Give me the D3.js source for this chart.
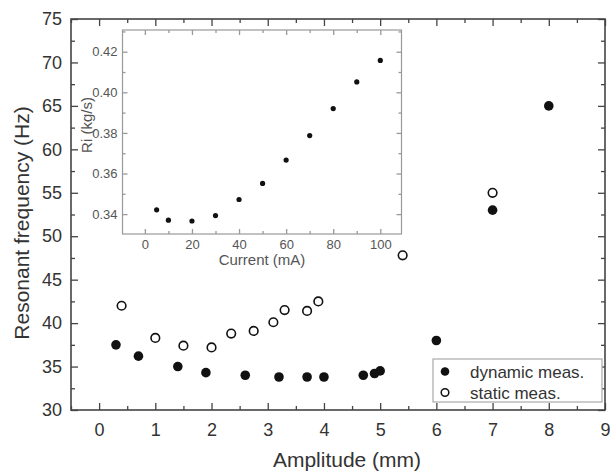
<!DOCTYPE html>
<html><head><meta charset="utf-8">
<script src="https://cdn.jsdelivr.net/npm/d3@7"></script>
<style>body{margin:0;background:#fff;}svg{display:block;font-family:Arial,"Liberation Sans",sans-serif;}</style>
</head><body>
<script>
// Main chart data
const dynamicAmp  = [0.3, 0.7, 1.4, 1.9, 2.6, 3.2, 3.7, 4.0, 4.7, 4.9, 5.0, 6.0, 7.0, 8.0];
const dynamicFreq = [37.5, 36.2, 35.0, 34.3, 34.0, 33.8, 33.8, 33.8, 34.0, 34.2, 34.5, 38.0, 53.0, 65.0];
const staticAmp   = [0.4, 1.0, 1.5, 2.0, 2.35, 2.75, 3.1, 3.3, 3.7, 3.9, 5.4, 7.0];
const staticFreq  = [42.0, 38.3, 37.4, 37.2, 38.8, 39.1, 40.1, 41.5, 41.4, 42.5, 47.8, 55.0];
const xTicks = [0, 1, 2, 3, 4, 5, 6, 7, 8, 9];
const yTicks = [30, 35, 40, 45, 50, 55, 60, 65, 70, 75];
const legendLabels = ["dynamic meas.", "static meas."];
// Inset data
const insetCurrent = [5, 10, 20, 30, 40, 50, 60, 70, 80, 90, 100];
const insetRi      = [0.3421, 0.3370, 0.3366, 0.3393, 0.3472, 0.3551, 0.3666, 0.3787, 0.3920, 0.4051, 0.4157];
const insetXTicks = [0, 20, 40, 60, 80, 100];
const insetYTicks = [0.34, 0.36, 0.38, 0.40, 0.42];

const W = 610, H = 474;
const svg = d3.select("body").append("svg").attr("width", W).attr("height", H);

const L = 71, R = 605, T = 19, B = 410;
const x = d3.scaleLinear().domain([-0.5, 9]).range([L, R]);
const y = d3.scaleLinear().domain([30, 75]).range([B, T]);
const axisColor = "#444", textColor = "#333";

function styleAxis(g, color, textCol, fs) {
  g.select(".domain").remove();
  g.selectAll("line").attr("stroke", color).attr("stroke-width", 1.3);
  g.selectAll("text").attr("fill", textCol).style("font-size", fs + "px");
}

// minor ticks
const xMinor = d3.range(-0.5, 9.01, 0.5).filter(v => Math.abs(v - Math.round(v)) > 0.1);
const yMinor = d3.range(32.5, 75, 5);

function mainAxes() {
  // bottom
  svg.append("g").attr("transform", `translate(0,${B})`)
    .call(d3.axisBottom(x).tickValues(xTicks).tickSize(-7).tickPadding(13).tickFormat(d3.format("d")))
    .call(g => styleAxis(g, axisColor, textColor, 18));
  svg.append("g").attr("transform", `translate(0,${B})`)
    .call(d3.axisBottom(x).tickValues(xMinor).tickSize(-4).tickFormat(""))
    .call(g => styleAxis(g, axisColor, textColor, 18));
  // top
  svg.append("g").attr("transform", `translate(0,${T})`)
    .call(d3.axisTop(x).tickValues(xTicks).tickSize(-7).tickFormat(""))
    .call(g => styleAxis(g, axisColor, textColor, 18));
  svg.append("g").attr("transform", `translate(0,${T})`)
    .call(d3.axisTop(x).tickValues(xMinor).tickSize(-4).tickFormat(""))
    .call(g => styleAxis(g, axisColor, textColor, 18));
  // left
  svg.append("g").attr("transform", `translate(${L},0)`)
    .call(d3.axisLeft(y).tickValues(yTicks).tickSize(-7).tickPadding(9).tickFormat(d3.format("d")))
    .call(g => styleAxis(g, axisColor, textColor, 18));
  svg.append("g").attr("transform", `translate(${L},0)`)
    .call(d3.axisLeft(y).tickValues(yMinor).tickSize(-4).tickFormat(""))
    .call(g => styleAxis(g, axisColor, textColor, 18));
  // right
  svg.append("g").attr("transform", `translate(${R},0)`)
    .call(d3.axisRight(y).tickValues(yTicks).tickSize(-7).tickFormat(""))
    .call(g => styleAxis(g, axisColor, textColor, 18));
  svg.append("g").attr("transform", `translate(${R},0)`)
    .call(d3.axisRight(y).tickValues(yMinor).tickSize(-4).tickFormat(""))
    .call(g => styleAxis(g, axisColor, textColor, 18));
  // frame
  svg.append("rect").attr("x", L).attr("y", T).attr("width", R - L).attr("height", B - T)
    .attr("fill", "none").attr("stroke", axisColor).attr("stroke-width", 1.6);
}

// inset
const iL = 122.5, iR = 401.5, iT = 30, iB = 234;
const ix = d3.scaleLinear().domain([-9.5, 109]).range([iL, iR]);
const iy = d3.scaleLinear().domain([0.3302, 0.4307]).range([iB, iT]);
const insetColor = "#999", insetText = "#555";

svg.append("rect").attr("x", iL).attr("y", iT).attr("width", iR - iL).attr("height", iB - iT)
  .attr("fill", "#fff");

const ixMinor = d3.range(-10, 110, 10).filter(v => v % 20 !== 0 && v > -9.5);
const iyMinor = [0.33, 0.35, 0.37, 0.39, 0.41, 0.43].filter(v => v >= 0.3302 && v <= 0.4307);

svg.append("g").attr("transform", `translate(0,${iB})`)
  .call(d3.axisBottom(ix).tickValues(insetXTicks).tickSize(-5).tickPadding(6).tickFormat(d3.format("d")))
  .call(g => styleAxis(g, insetColor, insetText, 13));
svg.append("g").attr("transform", `translate(0,${iB})`)
  .call(d3.axisBottom(ix).tickValues(ixMinor).tickSize(-3).tickFormat(""))
  .call(g => styleAxis(g, insetColor, insetText, 13));
svg.append("g").attr("transform", `translate(0,${iT})`)
  .call(d3.axisTop(ix).tickValues(insetXTicks).tickSize(-5).tickFormat(""))
  .call(g => styleAxis(g, insetColor, insetText, 13));
svg.append("g").attr("transform", `translate(0,${iT})`)
  .call(d3.axisTop(ix).tickValues(ixMinor).tickSize(-3).tickFormat(""))
  .call(g => styleAxis(g, insetColor, insetText, 13));
svg.append("g").attr("transform", `translate(${iL},0)`)
  .call(d3.axisLeft(iy).tickValues(insetYTicks).tickSize(-5).tickPadding(5).tickFormat(d3.format(".2f")))
  .call(g => styleAxis(g, insetColor, insetText, 13));
svg.append("g").attr("transform", `translate(${iL},0)`)
  .call(d3.axisLeft(iy).tickValues(iyMinor).tickSize(-3).tickFormat(""))
  .call(g => styleAxis(g, insetColor, insetText, 13));
svg.append("g").attr("transform", `translate(${iR},0)`)
  .call(d3.axisRight(iy).tickValues(insetYTicks).tickSize(-5).tickFormat(""))
  .call(g => styleAxis(g, insetColor, insetText, 13));
svg.append("g").attr("transform", `translate(${iR},0)`)
  .call(d3.axisRight(iy).tickValues(iyMinor).tickSize(-3).tickFormat(""))
  .call(g => styleAxis(g, insetColor, insetText, 13));
svg.append("rect").attr("x", iL).attr("y", iT).attr("width", iR - iL).attr("height", iB - iT)
  .attr("fill", "none").attr("stroke", insetColor).attr("stroke-width", 1.2);

svg.append("g").selectAll("circle").data(insetCurrent).join("circle")
  .attr("cx", (d) => ix(d)).attr("cy", (d, i) => iy(insetRi[i])).attr("r", 2.6).attr("fill", "#111");

svg.append("text").attr("x", (iL + iR) / 2).attr("y", 265).attr("text-anchor", "middle")
  .attr("fill", insetText).style("font-size", "15px").text("Current (mA)");
svg.append("text").attr("transform", `translate(92,125) rotate(-90)`).attr("text-anchor", "middle")
  .attr("fill", insetText).style("font-size", "15px").text("Ri (kg/s)");

mainAxes();

// main points
svg.append("g").selectAll("circle").data(staticAmp).join("circle")
  .attr("cx", d => x(d)).attr("cy", (d, i) => y(staticFreq[i])).attr("r", 4.3)
  .attr("fill", "#fff").attr("stroke", "#111").attr("stroke-width", 1.6);
svg.append("g").selectAll("circle").data(dynamicAmp).join("circle")
  .attr("cx", d => x(d)).attr("cy", (d, i) => y(dynamicFreq[i])).attr("r", 4.8)
  .attr("fill", "#111");

// legend
const lg = svg.append("g");
lg.append("rect").attr("x", 433).attr("y", 359).attr("width", 169).attr("height", 43)
  .attr("fill", "#fff").attr("stroke", "#aaa").attr("stroke-width", 1.2);
lg.append("circle").attr("cx", 445).attr("cy", 371.5).attr("r", 4.3).attr("fill", "#111");
lg.append("circle").attr("cx", 445).attr("cy", 392.5).attr("r", 3.8).attr("fill", "#fff")
  .attr("stroke", "#111").attr("stroke-width", 1.5);
lg.append("text").attr("x", 470).attr("y", 377.5).attr("fill", textColor).style("font-size", "17px").text(legendLabels[0]);
lg.append("text").attr("x", 470).attr("y", 398.5).attr("fill", textColor).style("font-size", "17px").text(legendLabels[1]);

// axis titles
svg.append("text").attr("x", 347).attr("y", 467).attr("text-anchor", "middle")
  .attr("fill", textColor).style("font-size", "21px").text("Amplitude (mm)");
svg.append("text").attr("transform", `translate(29,223) rotate(-90)`).attr("text-anchor", "middle")
  .attr("fill", textColor).style("font-size", "21px").text("Resonant frequency (Hz)");
</script>
</body></html>
